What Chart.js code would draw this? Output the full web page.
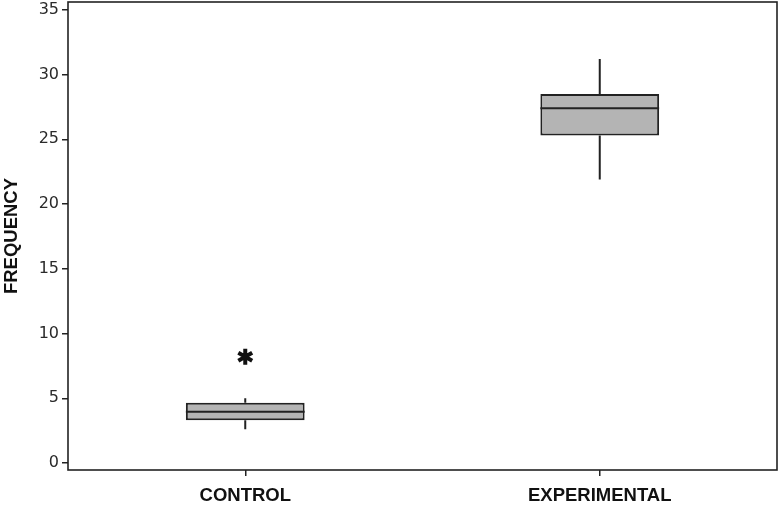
<!DOCTYPE html>
<html>
<head>
<meta charset="utf-8">
<script src="https://cdn.jsdelivr.net/npm/chart.js@4.4.1/dist/chart.umd.min.js"></script>
<style>
  html, body { margin: 0; padding: 0; background: #fff; }
  #wrap { position: relative; width: 780px; height: 506px; }
</style>
</head>
<body>
<div id="wrap"><canvas id="chart"></canvas></div>
<script>
// box plot values
const groups = ['CONTROL', 'EXPERIMENTAL'];
const whiskerLow = [2.6, 21.9];
const quartile1 = [3.3, 25.3];
const medians = [3.95, 27.4];
const quartile3 = [4.65, 28.5];
const whiskerHigh = [5.0, 31.2];
const outliers = [[8.2], []];
const yTicks = [0, 5, 10, 15, 20, 25, 30, 35];

const LINE = '#222';

// whiskers, medians, outliers and the frame, placed through the chart scales
const boxParts = {
  id: 'boxParts',
  afterDatasetsDraw(chart) {
    const { ctx, chartArea } = chart;
    const y = chart.scales.y;
    const bars = chart.getDatasetMeta(0).data;
    ctx.save();
    ctx.strokeStyle = LINE;
    ctx.lineWidth = 2;
    bars.forEach((bar, i) => {
      const half = bar.width / 2;
      ctx.beginPath();
      ctx.moveTo(bar.x, y.getPixelForValue(whiskerLow[i]));
      ctx.lineTo(bar.x, y.getPixelForValue(quartile1[i]));
      ctx.moveTo(bar.x, y.getPixelForValue(quartile3[i]));
      ctx.lineTo(bar.x, y.getPixelForValue(whiskerHigh[i]));
      ctx.moveTo(bar.x - half, y.getPixelForValue(medians[i]));
      ctx.lineTo(bar.x + half, y.getPixelForValue(medians[i]));
      ctx.stroke();

      // asterisk for each outlier
      outliers[i].forEach((v) => {
        const py = y.getPixelForValue(v);
        ctx.save();
        ctx.lineWidth = 4;
        ctx.strokeStyle = '#111';
        ctx.beginPath();
        [90, 30, 150].forEach((deg) => {
          const a = (deg * Math.PI) / 180;
          const dx = Math.cos(a) * 8;
          const dy = Math.sin(a) * 8;
          ctx.moveTo(bar.x - dx, py - dy);
          ctx.lineTo(bar.x + dx, py + dy);
        });
        ctx.stroke();
        ctx.restore();
      });
    });

    // full frame round the plot
    ctx.lineWidth = 1.6;
    ctx.strokeStyle = LINE;
    ctx.strokeRect(chartArea.left, chartArea.top, chartArea.right - chartArea.left, chartArea.bottom - chartArea.top);
    ctx.restore();
  },
};

const config = {
  type: 'bar',
  data: {
    labels: groups,
    datasets: [
      {
        data: quartile1.map((q, i) => [q, quartile3[i]]),
        backgroundColor: '#b4b4b4',
        borderColor: LINE,
        borderWidth: 2,
        borderSkipped: false,
        barPercentage: 0.335,
        categoryPercentage: 1,
      },
    ],
  },
  options: {
    responsive: true,
    maintainAspectRatio: false,
    animation: false,
    layout: { padding: { top: 2, right: 3, left: 0, bottom: 0 } },
    plugins: {
      legend: { display: false },
      tooltip: { enabled: false },
    },
    scales: {
      x: {
        offset: true,
        border: { display: false },
        grid: { offset: false, drawOnChartArea: false, drawTicks: true, tickLength: 6, color: LINE, lineWidth: 1.5 },
        ticks: {
          padding: 9,
          color: '#111',
          font: { family: 'Liberation Sans', weight: 'bold', size: 18.5 },
        },
        afterFit: (scale) => {
          scale.height = 36;
          scale.paddingRight = 0;
        },
      },
      y: {
        min: -0.54,
        max: 35.6,
        border: { display: false },
        grid: { drawOnChartArea: false, drawTicks: true, tickLength: 6, color: LINE, lineWidth: 1.5 },
        ticks: {
          padding: 3,
          color: '#2a2a2a',
          font: { family: 'DejaVu Sans', size: 16 },
        },
        afterBuildTicks: (scale) => { scale.ticks = yTicks.map((v) => ({ value: v })); },
        title: {
          display: true,
          text: 'FREQUENCY',
          color: '#111',
          padding: { top: 1, bottom: 0 },
          font: { family: 'Liberation Sans', weight: 'bold', size: 18.5 },
        },
        afterFit: (scale) => {
          scale.width = 68;
          // let the 35 label poke above the plot, as in the picture
          scale.paddingTop = 0;
          scale.paddingBottom = 0;
        },
      },
    },
  },
  plugins: [boxParts],
};

new Chart(document.getElementById('chart'), config);
</script>
</body>
</html>
